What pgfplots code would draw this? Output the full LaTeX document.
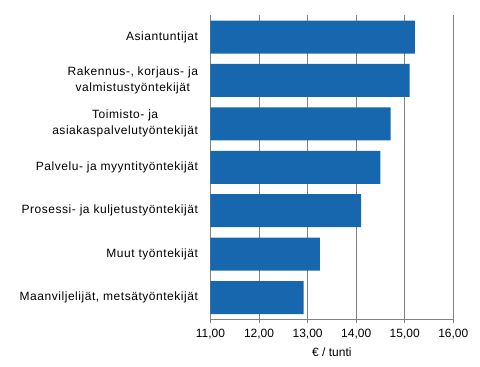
\documentclass[border=0pt]{standalone}
\usepackage{fontspec}
\setmainfont{Liberation Sans}
\usepackage{pgfplots}
\pgfplotsset{compat=1.18}
\definecolor{barblue}{RGB}{23,103,175}
\definecolor{gridgray}{RGB}{128,128,128}
\begin{document}
\begin{tikzpicture}
\begin{axis}[
  at={(0,0)}, anchor=south west,
  scale only axis,
  width=242.8bp, height=304bp,
  xbar, bar width=0.76,
  xmin=11, xmax=16,
  ymin=-0.5, ymax=6.5,
  y dir=reverse,
  axis x line*=bottom, axis y line*=left,
  axis line style={gridgray, line width=0.8bp},
  xtick={11,12,13,14,15,16},
  xmajorgrids, major grid style={gridgray, line width=0.8bp},
  xtick align=outside,
  major tick length=4bp,
  xtick style={gridgray, line width=0.8bp},
  ytick={0,1,2,3,4,5,6},
  ytick style={draw=none},
  minor ytick={-0.5,0.5,1.5,2.5,3.5,4.5,5.5,6.5},
  minor tick length=4bp,
  minor y tick style={gridgray, line width=0.8bp},
  yticklabels={Asiantuntijat,{Rakennus-, korjaus- ja\\valmistustyöntekijät},{Toimisto- ja\\asiakaspalvelutyöntekijät},Palvelu- ja myyntityöntekijät,Prosessi- ja kuljetustyöntekijät,Muut työntekijät,{Maanviljelijät, metsätyöntekijät}},
  yticklabel style={align=center, font=\fontsize{12bp}{16bp}\selectfont\addfontfeature{LetterSpace=4.5}, xshift=-5bp},
  xticklabel style={font=\fontsize{12bp}{14bp}\selectfont, yshift=-2bp},
  /pgf/number format/assume math mode=true,
  xticklabel={\pgfmathprintnumber[fixed, fixed zerofill, precision=2, use comma, 1000 sep={}]{\tick}},
  xlabel={€ / tunti},
  xlabel style={font=\fontsize{12bp}{14bp}\selectfont, yshift=-2bp},
  tick label style={text=black},
  clip=true,
]
\addplot[fill=barblue, draw=none] coordinates {
  (15.21,0) (15.10,1) (14.71,2) (14.50,3) (14.10,4) (13.25,5) (12.92,6)
};
\end{axis}
\pgfresetboundingbox
\path[use as bounding box] (-210.5bp,-47.7bp) rectangle (269.5bp,304.3bp+15bp);
\end{tikzpicture}
\end{document}
